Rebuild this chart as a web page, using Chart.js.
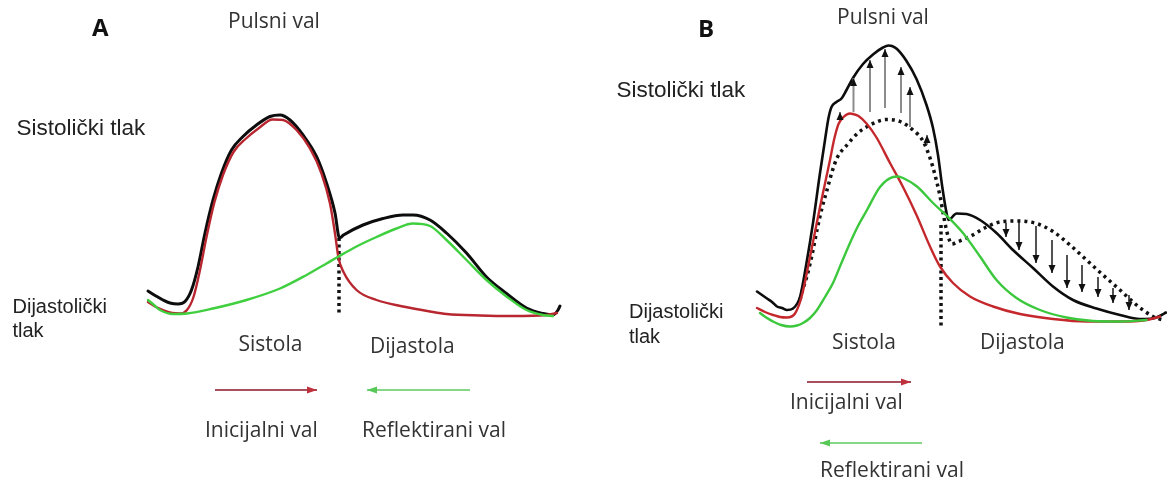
<!DOCTYPE html>
<html>
<head>
<meta charset="utf-8">
<script src="https://cdn.jsdelivr.net/npm/chart.js@4.4.1/dist/chart.umd.min.js"></script>
<style>
  html, body { margin: 0; padding: 0; background: #ffffff; }
  #wrap { position: relative; width: 1167px; height: 482px; }
</style>
</head>
<body>
<div id="wrap"><canvas id="c"></canvas></div>
<script>
// ---------- Data (time vs. pressure, picture units) ----------
// Panel A
const aPulse = [[148,291],[156,296],[163,300],[170,303],[178,304],[185,301.5],[191.5,290],[198,267],[205,233],[213,200],[221.5,173],[231.5,150],[243,136.5],[256.5,125],[270,116.5],[280,115],[290,120],[303,135],[316.5,156.5],[326.5,183],[335,213],[339.5,238],[343.5,235],[363,225],[383,218.5],[403,215],[413,215],[430,220],[446.5,233],[466.5,253],[486.5,277],[506.5,293.5],[526.5,308],[543,313.5],[553,315],[558,310],[560,306]];
const aInitial = [[148,302],[155,306.5],[163,310],[172,313],[180,313.5],[187,310],[193.5,297],[200,270],[206.5,237],[214.5,202],[223,175],[233.5,152],[245.5,139],[259,128],[272.5,119.5],[283,120],[296.5,130],[310,148.5],[321.5,173.5],[330,203.5],[335,233.5],[338.5,258],[343.5,272],[356.5,290],[376.5,300],[403,306.5],[430,311.5],[446.5,314],[480,315.5],[513,316],[546.5,315],[557,313]];
const aReflected = [[148,300],[154,305],[160,310],[173,314],[187,313.5],[213,308.5],[246.5,300],[280,288.5],[306.5,275],[326.5,263.5],[338.5,256.5],[356.5,246.5],[376.5,237],[396.5,228.5],[413,223.5],[430,226],[446.5,240],[466.5,260],[486.5,280],[506.5,296.5],[526.5,310],[543,315],[553,316]];
const aDivider = [[339,238],[339,316]];
const aInitialArrow = [[215,390],[317,390]];
const aReflectedArrow = [[470,390],[367,390]];

// Panel B
const bPulse = [[757,291.5],[762,295],[767,298.5],[772,302],[777,306.5],[782,308],[787,310],[793,308.5],[800,297],[806.5,263],[813,223],[820,173],[825,140],[828.5,118],[831.5,107],[836.5,102],[841.5,98.5],[846.5,90],[853,78],[863,64],[873,54.5],[883,47.5],[888.5,45.5],[892,46],[897,49],[906.5,61],[916.5,79],[926.5,105],[933,128],[938,155],[942,185],[946,210],[948.5,220],[956.5,213.5],[966.5,214],[980,220],[996.5,233],[1013,250],[1033,268],[1053,286.5],[1073,300],[1096.5,308.5],[1120,315],[1140,319],[1153,318.5],[1161.5,315],[1166,312.5]];
const bInitial = [[757,308],[765,312],[773,315],[780,317],[787,317.5],[795,313.5],[801.5,297],[810,257],[820,207],[830,160],[834,140],[838.5,124],[843.5,117],[850,113.5],[853,114],[858.5,116],[866.5,123.5],[876.5,137.5],[890,163],[903,187],[916.5,215],[930,246.5],[940,266.5],[953,283],[970,296.5],[993,306.5],[1020,314],[1053,319],[1086.5,321.5],[1120,321.5],[1146.5,320],[1160,316.5]];
const bReflected = [[760,313],[767,318],[773,321.5],[781,325],[790,326.5],[797,325.5],[803,323],[810,318],[817,310],[825,297],[833,283],[841,264],[850,243],[858,226],[867,210],[880,187],[893,177],[898,176.5],[903,178],[917,186.5],[933,203],[948,217],[963,233],[980,256.5],[996.5,280],[1016.5,298],[1040,310],[1066.5,317.5],[1093,321],[1120,321.5],[1146.5,320]];
const bNormalPulse = [[800,300],[802,292],[807,276],[812,255],[817,230],[822,208],[827,190],[832,172],[837,158],[847,145],[858,133],[870,125],[886.5,119.5],[900,121.5],[913,130],[923,141],[930,158],[935,175],[940,196],[944,218],[948,236],[952,244],[957,242],[970,236.5],[986.5,227],[1003,221.5],[1020,221],[1036.5,223.5],[1053,231.5],[1070,245],[1086.5,260],[1103,275],[1120,290],[1136.5,305],[1153,316.5],[1163,320]];
const bDivider = [[941,225],[941,328]];
// augmentation arrows: [time, from, to]
const bUpArrows = [[840,121,112],[853.5,112,78],[870,112,60],[885,108,49],[901,113,67],[910,127,87],[927,145,135]];
const bDownArrows = [[1006,223,237],[1019,222,250],[1036,226,263],[1052,240,273],[1067,255,288],[1082,265,292],[1098,277,297],[1113,288,303],[1129,295,310]];
const bInitialArrow = [[807,382],[911,382]];
const bReflectedArrow = [[922,443],[820,443]];

// Text labels
const labelTexts = ['A','Pulsni val','Sistolički tlak','Dijastolički','tlak','Sistola','Dijastola','Inicijalni val','Reflektirani val',
                    'B','Pulsni val','Sistolički tlak','Dijastolički','tlak','Sistola','Dijastola','Inicijalni val','Reflektirani val'];

// ---------- Presentation (positions / styles) ----------
const fLetter = 'bold 24px "Open Sans"';
const fHead = '21px "Open Sans"';
const fSys = '22.5px "Liberation Sans"';
const fDia = '20px "Liberation Sans"';
const labelLayout = [
  {x:92, y:35.5, font:fLetter, color:'#111'},
  {x:228, y:28, font:fHead, color:'#333'},
  {x:16.5, y:135, font:fSys, color:'#222'},
  {x:12.5, y:313, font:fDia, color:'#222'},
  {x:12.5, y:337, font:fDia, color:'#222'},
  {x:238.5, y:351, font:fHead, color:'#333'},
  {x:370, y:352.5, font:fHead, color:'#333'},
  {x:205, y:436.5, font:fHead, color:'#333'},
  {x:362, y:436.5, font:fHead, color:'#333'},
  {x:698, y:37, font:fLetter, color:'#111'},
  {x:837, y:23.5, font:fHead, color:'#333'},
  {x:616.5, y:96.5, font:fSys, color:'#222'},
  {x:629, y:318, font:fDia, color:'#222'},
  {x:629, y:343, font:fDia, color:'#222'},
  {x:832, y:349, font:fHead, color:'#333'},
  {x:980, y:349, font:fHead, color:'#333'},
  {x:790, y:409, font:fHead, color:'#333'},
  {x:820, y:477, font:fHead, color:'#333'}
];

const pts = arr => arr.map(p => ({x:p[0], y:p[1]}));
const arrowPts = arr => {
  const out = [];
  arr.forEach(a => { out.push({x:a[0], y:a[1]}); out.push({x:a[0], y:a[2], tip:true}); out.push({x:a[0], y:null}); });
  return out;
};
const segPts = arr => [{x:arr[0][0], y:arr[0][1]}, {x:arr[1][0], y:arr[1][1], tip:true}];

function curve(label, data, color, width, extra) {
  return Object.assign({label, data: pts(data), borderColor: color, borderWidth: width,
    pointRadius: 0, fill: false, cubicInterpolationMode: 'monotone', borderCapStyle: 'round', borderJoinStyle: 'round'}, extra || {});
}

const datasets = [
  curve('A reflektirani', aReflected, '#3fcf3f', 2.4),
  curve('A inicijalni', aInitial, '#b8262f', 2.4),
  curve('A pulsni', aPulse, '#0d0d0d', 3),
  {label:'A granica', data: pts(aDivider), borderColor:'#111', borderWidth:3.5, borderDash:[3,3.5], pointRadius:0, tension:0},
  {label:'A inicijalni smjer', data: segPts(aInitialArrow), borderColor:'#a8505e', borderWidth:2, pointRadius:0, tension:0, head:{color:'#c0303c', len:10, w:7}},
  {label:'A reflektirani smjer', data: segPts(aReflectedArrow), borderColor:'#86d886', borderWidth:2, pointRadius:0, tension:0, head:{color:'#58c858', len:10, w:7}},

  curve('B reflektirani', bReflected, '#3cc83c', 2.4),
  curve('B inicijalni', bInitial, '#c4282c', 2.4),
  {label:'B normalni', data: pts(bNormalPulse), borderColor:'#111', borderWidth:3.5, borderDash:[3,4], pointRadius:0, fill:false, cubicInterpolationMode:'monotone'},
  {label:'B gore', data: arrowPts(bUpArrows), borderColor:'#8c8c8c', borderWidth:2, pointRadius:0, tension:0, spanGaps:false, head:{color:'#111', len:8, w:7}},
  {label:'B dolje', data: arrowPts(bDownArrows), borderColor:'#1a1a1a', borderWidth:1.5, pointRadius:0, tension:0, spanGaps:false, head:{color:'#111', len:8, w:7}},
  curve('B pulsni', bPulse, '#0d0d0d', 2.6),
  {label:'B granica', data: pts(bDivider), borderColor:'#111', borderWidth:3.5, borderDash:[3,3.5], pointRadius:0, tension:0},
  {label:'B inicijalni smjer', data: segPts(bInitialArrow), borderColor:'#a8505e', borderWidth:2, pointRadius:0, tension:0, head:{color:'#c0303c', len:10, w:7}},
  {label:'B reflektirani smjer', data: segPts(bReflectedArrow), borderColor:'#86d886', borderWidth:2, pointRadius:0, tension:0, head:{color:'#58c858', len:10, w:7}}
];

const arrowHeads = {
  id: 'arrowHeads',
  afterDatasetsDraw(chart) {
    const ctx = chart.ctx;
    chart.data.datasets.forEach((ds, di) => {
      if (!ds.head) return;
      const els = chart.getDatasetMeta(di).data;
      ctx.save();
      ctx.fillStyle = ds.head.color;
      for (let i = 1; i < els.length; i++) {
        if (!ds.data[i].tip) continue;
        const a = els[i-1], b = els[i];
        if (a.skip || b.skip) continue;
        const ang = Math.atan2(b.y - a.y, b.x - a.x);
        const L = ds.head.len, W = ds.head.w / 2;
        const bx = b.x - L * Math.cos(ang), by = b.y - L * Math.sin(ang);
        ctx.beginPath();
        ctx.moveTo(b.x, b.y);
        ctx.lineTo(bx + W * Math.sin(ang), by - W * Math.cos(ang));
        ctx.lineTo(bx - W * Math.sin(ang), by + W * Math.cos(ang));
        ctx.closePath();
        ctx.fill();
      }
      ctx.restore();
    });
  }
};

const textLabels = {
  id: 'textLabels',
  afterDatasetsDraw(chart) {
    const ctx = chart.ctx, sx = chart.scales.x, sy = chart.scales.y;
    ctx.save();
    ctx.textAlign = 'left';
    ctx.textBaseline = 'alphabetic';
    labelTexts.forEach((t, i) => {
      const L = labelLayout[i];
      ctx.font = L.font;
      ctx.fillStyle = L.color;
      ctx.fillText(t, sx.getPixelForValue(L.x), sy.getPixelForValue(L.y));
    });
    ctx.restore();
  }
};

new Chart(document.getElementById('c'), {
  type: 'line',
  data: { datasets },
  options: {
    responsive: true,
    maintainAspectRatio: false,
    animation: false,
    parsing: true,
    layout: { padding: 0 },
    plugins: { legend: { display: false }, tooltip: { enabled: false }, title: { display: false } },
    events: [],
    scales: {
      x: { type: 'linear', min: 0, max: 1167, display: false },
      y: { type: 'linear', min: 0, max: 482, reverse: true, display: false }
    }
  },
  plugins: [arrowHeads, textLabels]
});
</script>
</body>
</html>
